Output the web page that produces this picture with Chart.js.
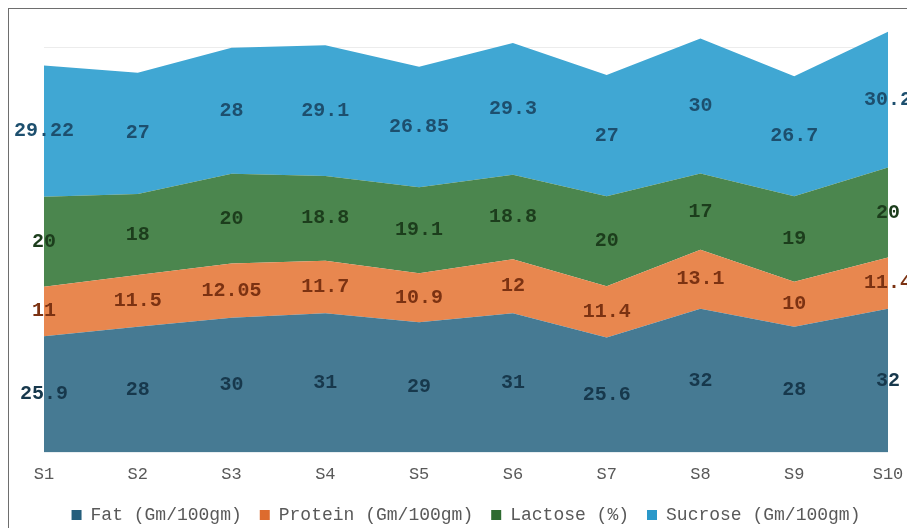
<!DOCTYPE html>
<html>
<head>
<meta charset="utf-8">
<script src="https://cdn.jsdelivr.net/npm/chart.js@4/dist/chart.umd.min.js"></script>
<style>
  html, body { margin: 0; padding: 0; background: #ffffff; }
  #wrap { position: relative; width: 907px; height: 528px; overflow: hidden; }
  #frame { position: absolute; left: 8px; top: 8px; width: 1000px; height: 1000px;
           border-top: 1px solid #6e6e6e; border-left: 1px solid #6e6e6e; }
  canvas { position: absolute; left: 0; top: 0; }
</style>
</head>
<body>
<div id="wrap">
  <div id="frame"></div>
  <canvas id="c" width="907" height="528"></canvas>
</div>
<script>
// Samples and their composition per series
const categories = ['S1', 'S2', 'S3', 'S4', 'S5', 'S6', 'S7', 'S8', 'S9', 'S10'];
const fat     = [25.9, 28, 30, 31, 29, 31, 25.6, 32, 28, 32];
const protein = [11, 11.5, 12.05, 11.7, 10.9, 12, 11.4, 13.1, 10, 11.4];
const lactose = [20, 18, 20, 18.8, 19.1, 18.8, 20, 17, 19, 20];
const sucrose = [29.22, 27, 28, 29.1, 26.85, 29.3, 27, 30, 26.7, 30.2];
const seriesNames = ['Fat (Gm/100gm)', 'Protein (Gm/100gm)', 'Lactose (%)', 'Sucrose (Gm/100gm)'];

const fills   = ['#467a93', '#e8874f', '#4b864e', '#40a7d3'];
const swatch  = ['#255e7c', '#dd6b2e', '#2e6b30', '#2a98c9'];
const inkCols = ['#17384c', '#7b3212', '#1c3d1c', '#1d4f6e'];

const MONO = '"Liberation Mono", "Courier New", monospace';

// Writes each value in the middle of its own band of the stack
const bandLabels = {
  id: 'bandLabels',
  afterDatasetsDraw(chart) {
    const ctx = chart.ctx;
    const xs = chart.scales.x, ys = chart.scales.y;
    const sets = chart.data.datasets;
    ctx.save();
    ctx.font = 'bold 20px ' + MONO;
    ctx.textAlign = 'center';
    ctx.textBaseline = 'middle';
    sets.forEach((ds, i) => {
      ds.data.forEach((v, j) => {
        let base = 0;
        for (let k = 0; k < i; k++) base += sets[k].data[j];
        const y = ys.getPixelForValue(base + v / 2);
        const x = xs.getPixelForValue(j);
        ctx.fillStyle = inkCols[i];
        ctx.fillText(String(v), x, y);
      });
    });
    ctx.restore();
  }
};

const values = [fat, protein, lactose, sucrose];
const datasets = values.map((arr, i) => ({
  label: seriesNames[i],
  data: arr,
  backgroundColor: fills[i],
  borderColor: fills[i],
  borderWidth: 0,
  pointRadius: 0,
  pointHoverRadius: 0,
  tension: 0,
  fill: i === 0 ? 'origin' : '-1'
}));

new Chart(document.getElementById('c'), {
  type: 'line',
  data: { labels: categories, datasets },
  options: {
    responsive: false,
    animation: false,
    events: [],
    layout: { padding: { left: 44, right: 19, top: 30, bottom: -6 } },
    scales: {
      x: {
        offset: false,
        grid: { display: false, drawTicks: false },
        border: { display: false },
        ticks: { color: '#595959', font: { family: MONO, size: 17 }, padding: 12, maxRotation: 0, autoSkip: false },
        afterFit(scale) {
          scale.height = 35.4;
          scale.paddingLeft = 0;
          scale.paddingRight = 0;
        }
      },
      y: {
        stacked: true,
        min: 0,
        max: 94,
        display: true,
        border: { display: false },
        ticks: { display: false, stepSize: 10 },
        grid: {
          drawTicks: false,
          color: (c) => (c.tick && c.tick.value === 90 ? '#ececec' : 'rgba(0,0,0,0)')
        },
        afterFit(scale) { scale.width = 0; }
      }
    },
    plugins: {
      tooltip: { enabled: false },
      legend: {
        position: 'bottom',
        labels: {
          color: '#595959',
          font: { family: MONO, size: 18 },
          boxWidth: 10,
          boxHeight: 10,
          padding: 18,
          generateLabels(chart) {
            return chart.data.datasets.map((ds, i) => ({
              text: ds.label,
              fillStyle: swatch[i],
              strokeStyle: swatch[i],
              lineWidth: 0,
              fontColor: '#595959',
              hidden: false,
              datasetIndex: i
            }));
          }
        }
      }
    }
  },
  plugins: [bandLabels]
});
</script>
</body>
</html>
